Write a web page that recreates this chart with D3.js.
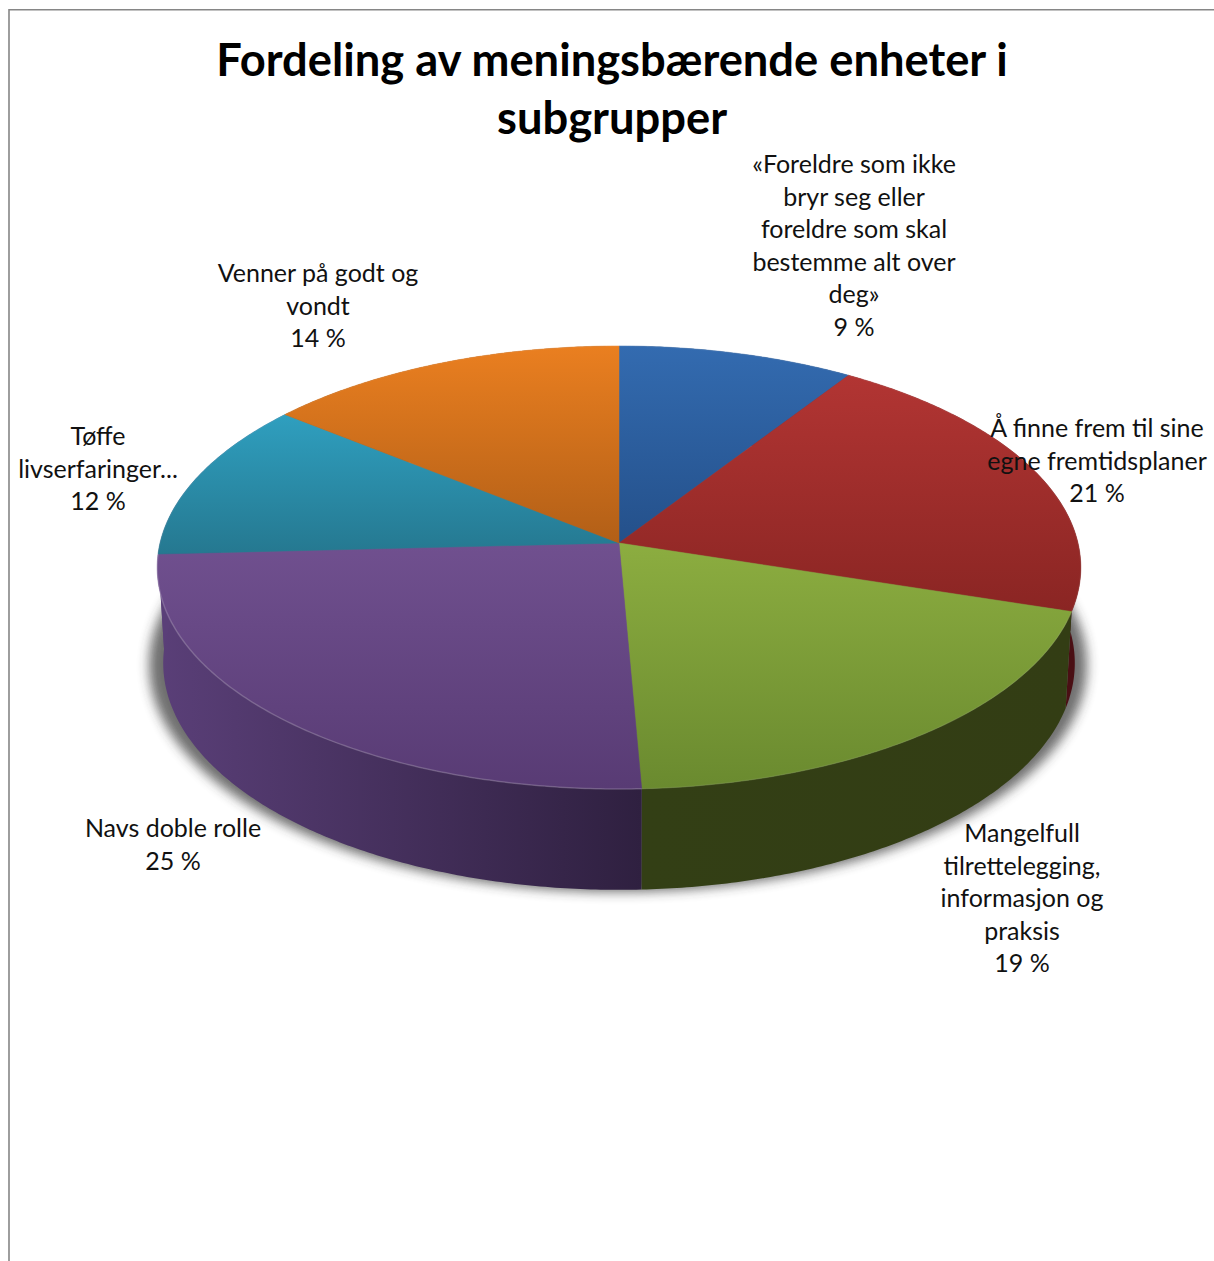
<!DOCTYPE html>
<meta charset="utf-8">
<style>
	body { margin: 0; background: #fff; }
	svg { display: block; }
	.title { font: 700 45.3px Lato, sans-serif; text-anchor: middle; fill: #000; }
	.label { font: 400 25px Lato, sans-serif; text-anchor: middle; fill: #111; }
</style>
<script src="https://cdn.jsdelivr.net/npm/d3@7"></script>

<body>
	<div id="chart"></div>
	<script>
		// data (labels show them rounded)
		const categories = [
			["«Foreldre som ikke", "bryr seg eller", "foreldre som skal", "bestemme alt over", "deg»"],
			["Å finne frem til sine", "egne fremtidsplaner"],
			["Mangelfull", "tilrettelegging,", "informasjon og", "praksis"],
			["Navs doble rolle"],
			["Tøffe", "livserfaringer..."],
			["Venner på godt og", "vondt"]
		];
		const values = [9.2, 20.7, 19.4, 24.9, 11.6, 14.2];
		const titleLines = ["Fordeling av meningsbærende enheter i", "subgrupper"];

		// colours: top of the slice, bottom of the slice
		const topColors = [
			["#336bb0", "#24508a"], ["#b23533", "#8a2523"], ["#8cad40", "#6a8a2f"],
			["#70508f", "#583b74"], ["#2f9fbf", "#257890"], ["#ea7f20", "#b25f17"]
		];
		// the teal wall only peeks out at the far left, where the picture shows purple
		const wallColors = [
			["#1c3a60", "#1c3a60"], ["#4a0f14", "#4a0f14"], ["#333f15", "#333d14"],
			["#5a3f78", "#2f2040"], ["#5a3f78", "#5a3f78"], ["#7c4210", "#7c4210"]
		];
		// label centre x and first line y
		const labelPos = [[854, 164], [1097, 428], [1022, 833], [173, 828], [98, 436], [318, 273]];

		const width = 1214, height = 1261, lineH = 32.5;

		const svg = d3.select("#chart").append("svg")
			.attr("width", width)
			.attr("height", height);

		// frame, no right or bottom edge in the picture
		svg.append("path")
			.attr("d", "M9," + height + "V9.7H" + width)
			.attr("fill", "none")
			.attr("stroke", "#868686")
			.attr("stroke-width", 1.6);

		// perspective view of a flat circle, v is towards the back
		const persp = 0.1106;
		function projector(cx, cy, rx, ry) {
			return function (a) {
				let u = Math.sin(a), v = Math.cos(a), w = 1 + persp * v;
				return [cx + rx * u / w, cy - ry * v / w];
			};
		}
		const topPlane = projector(619, 543, 459, 218.8);
		const bottomPlane = projector(619, 638, 453, 224);
		const shadowPlane = projector(618, 640, 466, 224);

		function arcPoints(plane, a0, a1) {
			let n = Math.max(2, Math.ceil((a1 - a0) / 0.01));
			return d3.range(n + 1).map(i => plane(a0 + (a1 - a0) * i / n));
		}

		const pie = d3.pie().sort(null);
		const slices = pie(values);
		const line = d3.line();

		let defs = svg.append("defs");
		function addGradient(id, colors, horizontal) {
			let g = defs.append("linearGradient").attr("id", id)
				.attr("x1", 0).attr("y1", 0)
				.attr("x2", horizontal ? 1 : 0).attr("y2", horizontal ? 0 : 1);
			g.append("stop").attr("offset", 0).attr("stop-color", colors[0]);
			g.append("stop").attr("offset", 1).attr("stop-color", colors[1]);
		}
		topColors.forEach((c, i) => addGradient("top" + i, c, false));
		wallColors.forEach((c, i) => addGradient("wall" + i, c, true));

		defs.append("filter").attr("id", "blur")
			.attr("x", "-10%").attr("y", "-10%").attr("width", "120%").attr("height", "120%")
			.append("feGaussianBlur").attr("stdDeviation", 6);

		// shadow under the pie
		svg.append("path")
			.attr("d", line(arcPoints(shadowPlane, 0, 2 * Math.PI)) + "Z")
			.attr("fill", "#333")
			.attr("opacity", 0.7)
			.attr("filter", "url(#blur)");

		// side walls
		svg.append("g").selectAll("path")
			.data(slices)
			.join("path")
			.attr("fill", (d, i) => "url(#wall" + i + ")")
			.attr("d", d => {
				let upper = arcPoints(topPlane, d.startAngle, d.endAngle);
				let lower = arcPoints(bottomPlane, d.startAngle, d.endAngle).reverse();
				return line(upper.concat(lower)) + "Z";
			});

		// top faces
		const apex = topPlane(Math.PI / 2);
		svg.append("g").selectAll("path")
			.data(slices)
			.join("path")
			.attr("fill", (d, i) => "url(#top" + i + ")")
			.attr("stroke", (d, i) => "url(#top" + i + ")")
			.attr("stroke-width", 0.5)
			.attr("d", d => {
				let a = [619, apex[1]];
				return line([a].concat(arcPoints(topPlane, d.startAngle, d.endAngle))) + "Z";
			});

		// thin light rim along the front edge
		svg.append("g").selectAll("path")
			.data(slices)
			.join("path")
			.attr("fill", "none")
			.attr("stroke", "#fff")
			.attr("stroke-opacity", (d, i) => i === 3 ? 0.18 : 0.06)
			.attr("stroke-width", 1.5)
			.attr("d", d => line(arcPoints(topPlane, d.startAngle, d.endAngle)));

		// title
		svg.append("g").selectAll("text")
			.data(titleLines)
			.join("text")
			.attr("class", "title")
			.attr("x", 612)
			.attr("y", (d, i) => 76 + i * 58)
			.text(d => d);

		// data labels
		categories.forEach((lines, i) => {
			let all = lines.concat([Math.round(values[i]) + " %"]);
			svg.append("g").selectAll("text")
				.data(all)
				.join("text")
				.attr("class", "label")
				.attr("x", labelPos[i][0])
				.attr("y", (d, j) => labelPos[i][1] + 9 + j * lineH)
				.text(d => d);
		});
	</script>
</body>
